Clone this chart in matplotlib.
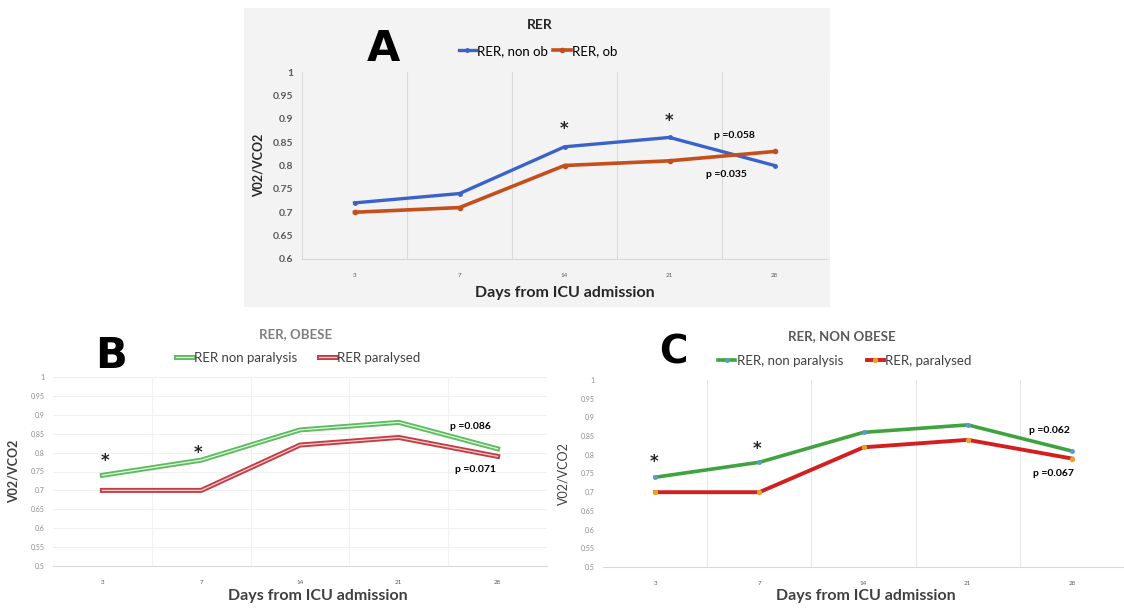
import matplotlib
matplotlib.use('Agg')
import matplotlib.pyplot as plt
import matplotlib.patheffects as pe
from matplotlib.patches import Rectangle

W, H = 1124, 608

days = ['3', '7', '14', '21', '28']

# panel A
rer_non_ob = [0.72, 0.74, 0.84, 0.86, 0.80]
rer_ob = [0.70, 0.71, 0.80, 0.81, 0.83]

# panel B (obese)
obese_non_par = [0.74, 0.78, 0.86, 0.88, 0.81]
obese_par = [0.70, 0.70, 0.82, 0.84, 0.79]

# panel C (non obese)
nonobese_non_par = [0.74, 0.78, 0.86, 0.88, 0.81]
nonobese_par = [0.70, 0.70, 0.82, 0.84, 0.79]

yticks_a = [0.6, 0.65, 0.7, 0.75, 0.8, 0.85, 0.9, 0.95, 1.0]
yticks_bc = [0.5, 0.55, 0.6, 0.65, 0.7, 0.75, 0.8, 0.85, 0.9, 0.95, 1.0]

plt.rcParams['font.family'] = ['Lato', 'DejaVu Sans']


def rect(l, t, r, b):
    return [l / W, 1 - b / H, (r - l) / W, (b - t) / H]


def fx(x):
    return x / W


def fy(y):
    return 1 - y / H


def tick_label(v):
    s = f'{v:.2f}'.rstrip('0').rstrip('.')
    return s


def setup(ax, yticks, ylim, xlim, ycolor, ysize, yweight, hgrid, vgrid_color):
    x = range(len(days))
    ax.set_xlim(*xlim)
    ax.set_ylim(*ylim)
    ax.set_yticks(yticks)
    ax.set_yticklabels([tick_label(v) for v in yticks], fontsize=ysize,
                       color=ycolor, fontweight=yweight)
    ax.set_xticks(list(x))
    ax.set_xticklabels(days, fontsize=4.5, color='#595959')
    ax.tick_params(length=0, pad=10)
    ax.tick_params(axis='y', pad=6)
    # category boundaries
    ax.set_xticks([i + 0.5 for i in range(len(days))], minor=True)
    ax.tick_params(which='minor', length=0)
    ax.grid(True, axis='x', which='minor', color=vgrid_color, linewidth=0.8)
    ax.grid(False, axis='x', which='major')
    if hgrid:
        ax.grid(True, axis='y', which='major', color='#F0F0F0', linewidth=0.8)
    for s in ['top', 'right', 'left']:
        ax.spines[s].set_visible(False)
    ax.spines['bottom'].set_color('#D9D9D9')
    ax.set_axisbelow(True)


def star(ax, xi, y):
    ax.text(xi, y, '*', ha='center', va='center', fontsize=12, fontweight='bold',
            color='#262626', family='DejaVu Sans')


fig = plt.figure(figsize=(W / 100, H / 100), dpi=100)
fig.patch.set_facecolor('white')

# ---------------- Panel A ----------------
fig.patches.append(Rectangle((fx(244), fy(307)), fx(830) - fx(244), fy(8) - fy(307),
                             transform=fig.transFigure, facecolor='#F3F3F3',
                             edgecolor='none', zorder=-10))
axA = fig.add_axes(rect(302, 72, 827, 259))
axA.set_facecolor('#F3F3F3')
setup(axA, yticks_a, (0.6, 1.0), (-0.5, 4.5), '#595959', 7.5, 'bold', False, '#DADADA')
axA.axvline(-0.5, color='#DADADA', linewidth=0.8)
axA.axvline(4.5, color='#DADADA', linewidth=0.8)
x = list(range(len(days)))
axA.plot(x, rer_non_ob, color='#3A62C9', linewidth=2.4, marker='o', markersize=2.5,
         label='RER, non ob')
axA.plot(x, rer_ob, color='#C44E1C', linewidth=2.6, marker='o', markersize=3,
         label='RER, ob')
star(axA, 2, 0.878)
star(axA, 3, 0.895)
axA.text(3.62, 0.865, 'p =0.058', ha='center', va='center', fontsize=7.5, fontweight='bold')
axA.text(3.54, 0.78, 'p =0.035', ha='center', va='center', fontsize=7.5, fontweight='bold')
axA.set_ylabel('V02/VCO2', fontsize=9, fontweight='bold', color='#262626', labelpad=6)
axA.set_xlabel('Days from ICU admission', fontsize=11.5, fontweight='bold',
               color='#262626', labelpad=6)
fig.text(fx(540), fy(25), 'RER', ha='center', va='center', fontsize=10,
         fontweight='bold', color='#262626')
fig.legend(*axA.get_legend_handles_labels(), loc='center', ncol=2, frameon=False,
           bbox_to_anchor=(fx(538), fy(51)), fontsize=9.5, handlelength=1.3,
           handletextpad=0.1, columnspacing=0.4)
fig.text(fx(383), fy(49), 'A', ha='center', va='center', fontsize=31,
         fontweight='heavy', family='DejaVu Sans')

# ---------------- Panel B ----------------
axB = fig.add_axes(rect(53, 377, 547, 566))
setup(axB, yticks_bc, (0.5, 1.0), (-0.5, 4.14), '#8C8C8C', 5, 'normal', True, '#F2F2F2')
green_b = '#5CBD5C'
red_b = '#C63C44'
axB.plot(x, obese_non_par, color='#E6F6E6', linewidth=0.9, label='RER non paralysis',
         path_effects=[pe.Stroke(linewidth=3.6, foreground=green_b), pe.Normal()])
axB.plot(x, obese_par, color='#F3D2D2', linewidth=0.9, label='RER paralysed',
         path_effects=[pe.Stroke(linewidth=3.6, foreground=red_b), pe.Normal()])
star(axB, 0.03, 0.778)
star(axB, 0.97, 0.798)
axB.text(3.73, 0.87, 'p =0.086', ha='center', va='center', fontsize=7.5, fontweight='bold')
axB.text(3.78, 0.754, 'p =0.071', ha='center', va='center', fontsize=7.5, fontweight='bold')
axB.set_ylabel('V02/VCO2', fontsize=9, fontweight='bold', color='#404040', labelpad=8)
axB.set_xlabel('Days from ICU admission', fontsize=11.5, fontweight='bold',
               color='#404040')
axB.xaxis.set_label_coords((318 - 53) / (547 - 53), -(589 - 566) / (566 - 377))
fig.text(fx(296), fy(334), 'RER, OBESE', ha='center', va='center', fontsize=9.5,
         fontweight='bold', color='#7F7F7F')
fig.legend(*axB.get_legend_handles_labels(), loc='center', ncol=2, frameon=False,
           bbox_to_anchor=(fx(298), fy(358)), fontsize=9.5, handlelength=1.3,
           handletextpad=0.1, columnspacing=1.6, labelcolor='#404040')
fig.text(fx(111), fy(356), 'B', ha='center', va='center', fontsize=30,
         fontweight='heavy', family='DejaVu Sans')

# ---------------- Panel C ----------------
axC = fig.add_axes(rect(603, 380, 1124, 567))
setup(axC, yticks_bc, (0.5, 1.0), (-0.5, 4.44), '#8C8C8C', 5, 'normal', False, '#E8E8E8')
axC.plot(x, nonobese_non_par, color='#3FA33F', linewidth=2.6, marker='o', markersize=2.5,
         markerfacecolor='#5A9BC8', markeredgecolor='#5A9BC8', label='RER, non paralysis')
axC.plot(x, nonobese_par, color='#D41F1F', linewidth=2.8, marker='o', markersize=2.8,
         markerfacecolor='#E8A22A', markeredgecolor='#E8A22A', label='RER, paralysed')
star(axC, -0.01, 0.781)
star(axC, 0.98, 0.816)
axC.text(3.78, 0.866, 'p =0.062', ha='center', va='center', fontsize=7.5, fontweight='bold')
axC.text(3.82, 0.749, 'p =0.067', ha='center', va='center', fontsize=7.5, fontweight='bold')
axC.set_ylabel('V02/VCO2', fontsize=9, fontweight='normal', color='#404040', labelpad=8)
axC.set_xlabel('Days from ICU admission', fontsize=11.5, fontweight='bold',
               color='#404040')
axC.xaxis.set_label_coords((866 - 603) / (1124 - 603), -(589 - 567) / (567 - 380))
fig.text(fx(842), fy(336), 'RER, NON OBESE', ha='center', va='center', fontsize=9.5,
         fontweight='bold', color='#595959')
fig.legend(*axC.get_legend_handles_labels(), loc='center', ncol=2, frameon=False,
           bbox_to_anchor=(fx(845), fy(361)), fontsize=9.5, handlelength=1.3,
           handletextpad=0.1, columnspacing=1.8, labelcolor='#404040')
fig.text(fx(673), fy(352), 'C', ha='center', va='center', fontsize=28,
         fontweight='heavy', family='DejaVu Sans')

fig.savefig('out.png', dpi=100)
